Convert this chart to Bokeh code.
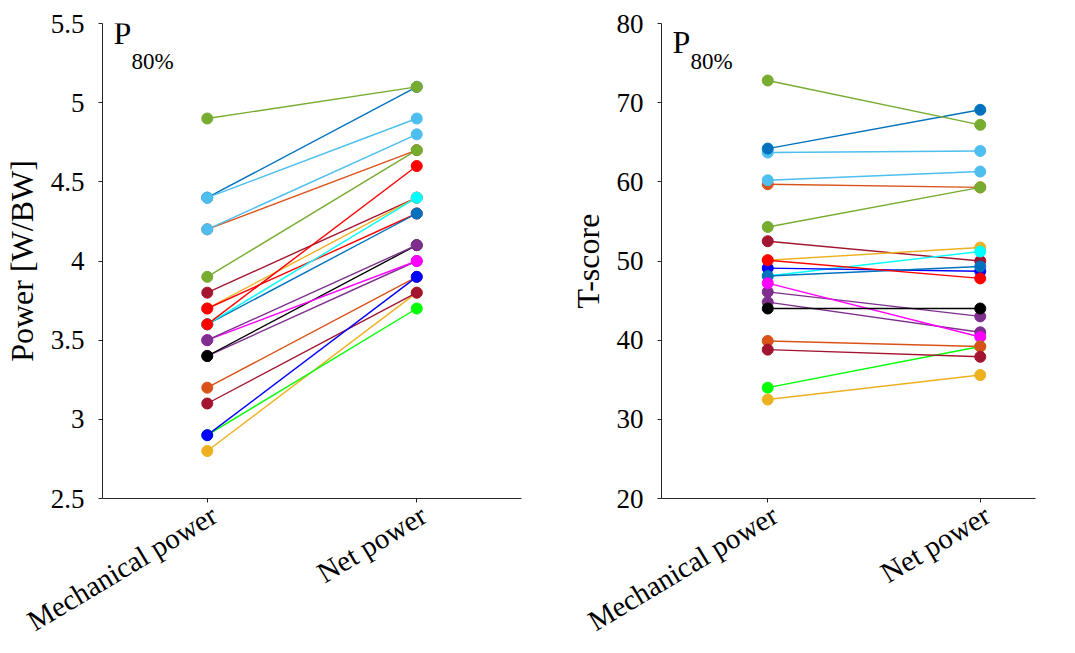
import math

from bokeh.embed import file_html
from bokeh.layouts import row
from bokeh.models import CustomJSTickFormatter, FixedTicker, Label, LinearAxis, Range1d
from bokeh.plotting import figure
from bokeh.resources import INLINE

# MATLAB-like colour names
DBLUE = "#0072BD"
ORANGE = "#D95319"
YELLOW = "#EDB120"
PURPLE = "#7E2F8E"
GREEN = "#77AC30"
LBLUE = "#4DBEEE"
DRED = "#A2142F"
RED = "#FF0000"
LIME = "#00FF00"
BLUE = "#0000FF"
CYAN = "#00FFFF"
MAGENTA = "#FF00FF"
BLACK = "#000000"

categories = ["Mechanical power", "Net power"]

# Power per body weight, one pair per participant (drawing order)
power_colors = [DBLUE, ORANGE, LBLUE, LBLUE, GREEN, GREEN, DRED, YELLOW, RED, DBLUE, CYAN,
                RED, PURPLE, BLACK, MAGENTA, PURPLE, ORANGE, YELLOW, DRED, LIME, BLUE]
power_mech = [4.4, 4.2, 4.4, 4.2, 4.9, 3.9, 3.8, 3.7, 3.7, 3.6, 3.6,
              3.6, 3.4, 3.4, 3.5, 3.5, 3.2, 2.8, 3.1, 2.9, 2.9]
power_net = [5.1, 4.7, 4.9, 4.8, 5.1, 4.7, 4.4, 4.4, 4.3, 4.3, 4.4,
             4.6, 4.0, 4.1, 4.0, 4.1, 3.9, 3.8, 3.8, 3.7, 3.9]
power_ticks = [2.5, 3, 3.5, 4, 4.5, 5, 5.5]

# T-scores, one pair per participant (drawing order)
tscore_colors = [LBLUE, DBLUE, ORANGE, LBLUE, GREEN, GREEN, DRED, YELLOW, CYAN, BLUE,
                 DBLUE, RED, PURPLE, PURPLE, MAGENTA, BLACK, LIME, ORANGE, DRED, YELLOW]
tscore_mech = [63.7, 64.2, 59.7, 60.2, 72.8, 54.3, 52.5, 50.1, 48.1, 49.1,
               48.1, 50.1, 46.1, 44.8, 47.2, 44.0, 34.0, 39.9, 38.8, 32.5]
tscore_net = [63.9, 69.1, 59.3, 61.3, 67.2, 59.3, 50.0, 51.7, 51.2, 48.7,
              49.3, 47.8, 43.0, 41.0, 40.4, 44.0, 39.2, 39.2, 37.9, 35.6]
tscore_ticks = [20, 30, 40, 50, 60, 70, 80]

FONT = "Liberation Serif"
AXIS_COLOR = "#262626"


def panel(width, border_left, border_right, x_end, y_range, ticks, ylabel,
          colors, mech, net, p_pos, sub_pos):
    frame_w = width - border_left - border_right
    x_px = frame_w / (x_end - 0.5)  # pixels per category step
    p = figure(width=width, height=653, output_backend="svg", toolbar_location=None,
               x_range=Range1d(0.5, x_end), y_range=Range1d(*y_range),
               min_border_left=border_left, min_border_right=border_right,
               min_border_top=23, min_border_bottom=155)
    p.outline_line_color = None
    p.xgrid.visible = False
    p.ygrid.visible = False
    p.background_fill_color = "white"
    p.border_fill_color = "white"

    for c, a, b in zip(colors, mech, net):
        p.line([1, 2], [a, b], line_color=c, line_width=1.4)
        p.scatter([1, 2], [a, b], size=11, fill_color=c, line_color=c)

    for ax in (p.xaxis[0], p.yaxis[0]):
        ax.axis_line_color = AXIS_COLOR
        ax.axis_line_width = 1
        ax.major_tick_line_color = AXIS_COLOR
        ax.major_tick_in = 0
        ax.major_tick_out = 4
        ax.minor_tick_line_color = None
        ax.major_label_text_font = FONT
        ax.major_label_text_color = "black"

    p.yaxis.ticker = FixedTicker(ticks=ticks)
    p.yaxis.formatter = CustomJSTickFormatter(code="return tick.toString();")
    p.yaxis.major_label_text_font_size = "27px"
    p.yaxis.major_label_standoff = 14
    p.yaxis.axis_label = ylabel
    p.yaxis.axis_label_text_font = FONT
    p.yaxis.axis_label_text_font_size = "32px"
    p.yaxis.axis_label_text_font_style = "normal"
    p.yaxis.axis_label_text_color = "black"
    p.yaxis.axis_label_standoff = 8

    # the category axis carries only the tick marks ...
    p.xaxis.ticker = FixedTicker(ticks=[1, 2])
    p.xaxis.major_label_overrides = {1: "", 2: ""}
    p.xaxis.major_label_text_font_size = "1px"
    p.xaxis.major_label_standoff = 0

    # ... and a second, line-less axis carries the slanted category names
    shift = 7 / x_px
    p.extra_x_ranges = {"names": Range1d(0.5 - shift, x_end - shift)}
    names = LinearAxis(x_range_name="names", ticker=FixedTicker(ticks=[1, 2]),
                       major_label_overrides={1: categories[0], 2: categories[1]},
                       axis_line_color=None, major_tick_line_color=None,
                       minor_tick_line_color=None, major_tick_in=0, major_tick_out=0,
                       major_label_orientation=math.radians(31),
                       major_label_text_font=FONT, major_label_text_font_size="29px",
                       major_label_text_color="black", major_label_standoff=10)
    p.add_layout(names, "below")

    p.add_layout(Label(x=p_pos[0], y=p_pos[1], text="P", text_font=FONT,
                       text_font_size="32px", text_color="black",
                       text_baseline="bottom"))
    p.add_layout(Label(x=sub_pos[0], y=sub_pos[1], text="80%", text_font=FONT,
                       text_font_size="23px", text_color="black",
                       text_baseline="bottom"))
    return p


left = panel(560, 101, 39, 2.5, (2.5, 5.5), power_ticks, "Power [W/BW]",
             power_colors, power_mech, power_net, (0.552, 5.329), (0.638, 5.184))
right = panel(515, 101, 40, 2.26, (20, 80), tscore_ticks, "T-score",
              tscore_colors, tscore_mech, tscore_net, (0.552, 75.45), (0.636, 73.65))

layout = row(left, right)

with open("out.html", "w") as f:
    f.write(file_html(layout, INLINE))
